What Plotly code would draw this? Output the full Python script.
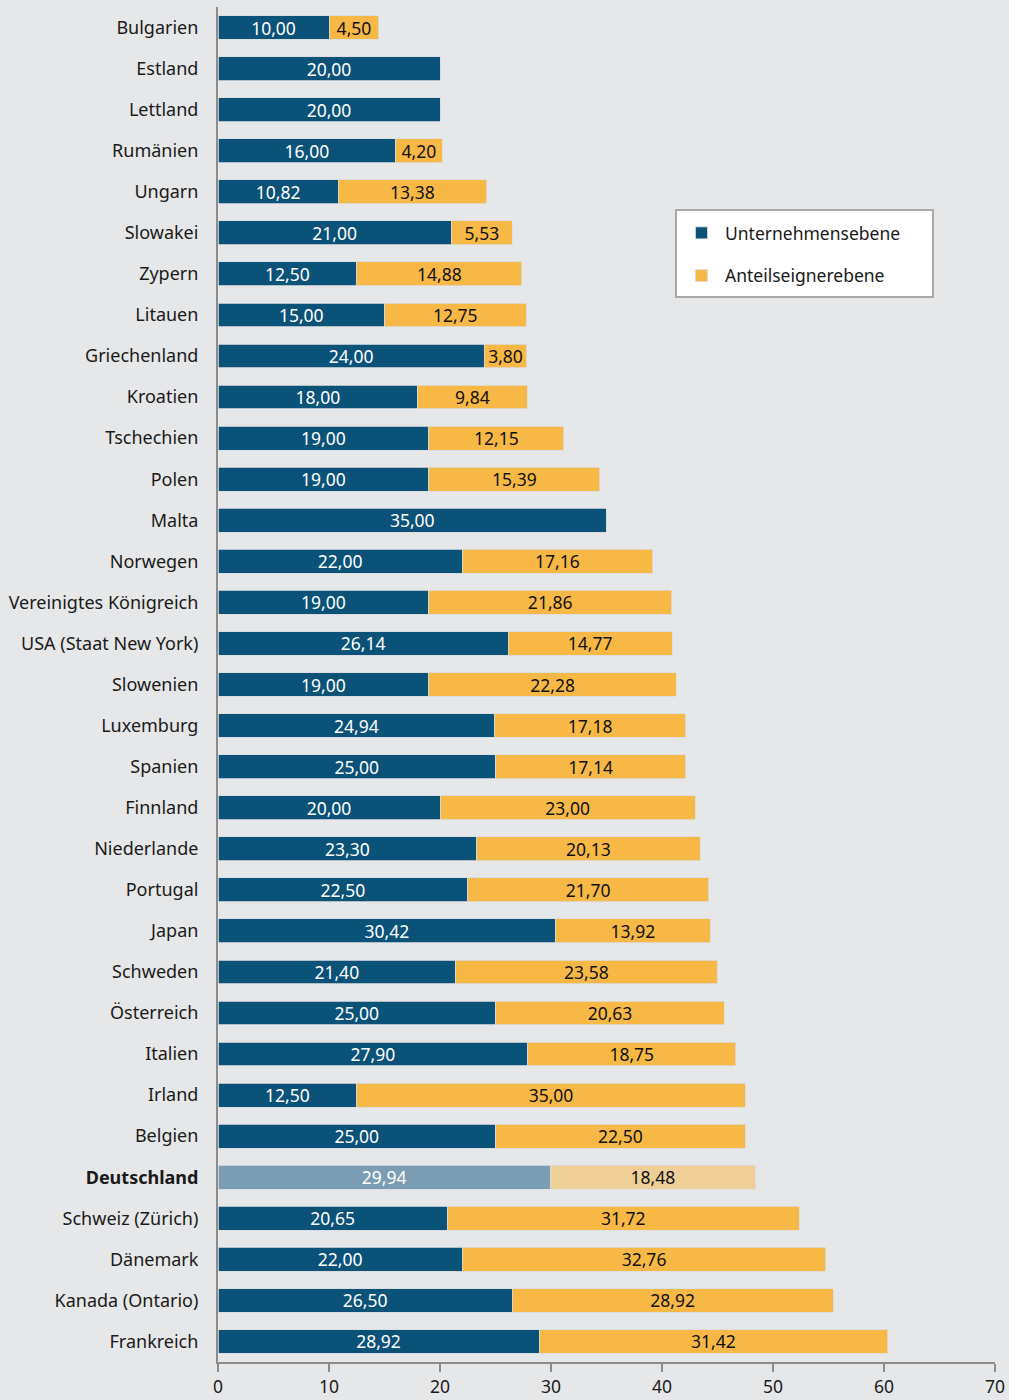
import plotly.graph_objects as go

countries = ["Bulgarien", "Estland", "Lettland", "Rumänien", "Ungarn", "Slowakei", "Zypern",
             "Litauen", "Griechenland", "Kroatien", "Tschechien", "Polen", "Malta", "Norwegen",
             "Vereinigtes Königreich", "USA (Staat New York)", "Slowenien", "Luxemburg", "Spanien",
             "Finnland", "Niederlande", "Portugal", "Japan", "Schweden", "Österreich", "Italien",
             "Irland", "Belgien", "Deutschland", "Schweiz (Zürich)", "Dänemark", "Kanada (Ontario)",
             "Frankreich"]
unternehmen = [10.00, 20.00, 20.00, 16.00, 10.82, 21.00, 12.50, 15.00, 24.00, 18.00, 19.00, 19.00,
               35.00, 22.00, 19.00, 26.14, 19.00, 24.94, 25.00, 20.00, 23.30, 22.50, 30.42, 21.40,
               25.00, 27.90, 12.50, 25.00, 29.94, 20.65, 22.00, 26.50, 28.92]
anteilseigner = [4.50, 0, 0, 4.20, 13.38, 5.53, 14.88, 12.75, 3.80, 9.84, 12.15, 15.39,
                 0, 17.16, 21.86, 14.77, 22.28, 17.18, 17.14, 23.00, 20.13, 21.70, 13.92, 23.58,
                 20.63, 18.75, 35.00, 22.50, 18.48, 31.72, 32.76, 28.92, 31.42]
highlight = "Deutschland"
x_ticks = [0, 10, 20, 30, 40, 50, 60, 70]

BLUE, BLUE_L = "#0b5279", "#7a9db3"
YEL, YEL_L = "#f7b845", "#efcf98"
BG = "#e6e7e8"

def fmt(v):
    return f"{v:.2f}".replace(".", ",") if v > 0 else ""

blue_cols = [BLUE_L if c == highlight else BLUE for c in countries]
yel_cols = [YEL_L if c == highlight else YEL for c in countries]
ticktext = [f"<b>{c}</b>" if c == highlight else c for c in countries]

fig = go.Figure()
fig.add_trace(go.Bar(
    y=countries, x=unternehmen, orientation="h", name="Unternehmensebene",
    marker=dict(color=blue_cols, line=dict(width=0.8, color="#d9dcdf")),
    text=[fmt(v) for v in unternehmen], textposition="inside", insidetextanchor="middle",
    textangle=0, textfont=dict(color="white", size=17.5), legendgroup="a",
    hoverinfo="x+y"))
fig.add_trace(go.Bar(
    y=countries, x=anteilseigner, orientation="h", name="Anteilseignerebene",
    marker=dict(color=yel_cols, line=dict(width=0.8, color="#d9dcdf")),
    text=[fmt(v) for v in anteilseigner], textposition="inside", insidetextanchor="middle",
    textangle=0, textfont=dict(color="#111111", size=17.5), legendgroup="b",
    hoverinfo="x+y"))

# legend frame (white box with grey border)
fig.add_shape(type="rect", xref="paper", yref="paper",
              x0=0.5894, x1=0.9202, y0=0.7860, y1=0.8502,
              fillcolor="white", line=dict(color="#a8a8a8", width=2), layer="above")

fig.update_layout(
    barmode="stack", bargap=0.42,
    width=1009, height=1400,
    margin=dict(l=218, r=14, t=7, b=38),
    paper_bgcolor=BG, plot_bgcolor=BG,
    font=dict(family="Noto Sans", size=18, color="#1a1a1a"),
    uniformtext=dict(mode="show", minsize=17),
    legend=dict(x=0.592, y=0.8465, xanchor="left", yanchor="top",
                bgcolor="rgba(0,0,0,0)", borderwidth=0,
                font=dict(size=17.5), tracegroupgap=17, traceorder="grouped",
                itemwidth=37, itemclick=False),
    showlegend=True,
)
fig.update_yaxes(type="category", categoryorder="array", categoryarray=countries,
                 autorange="reversed", tickvals=countries, ticktext=ticktext,
                 showline=True, linecolor="#8c8c8c", linewidth=2, ticks="",
                 ticklabelstandoff=14, showgrid=False, tickfont=dict(size=18),
                 automargin=False)
fig.update_xaxes(range=[0, 70], tickvals=x_ticks, showgrid=False, zeroline=False,
                 showline=True, linecolor="#8c8c8c", linewidth=2,
                 ticks="outside", ticklen=8, tickwidth=2, tickcolor="#8c8c8c",
                 tickfont=dict(size=17.5), automargin=False)

fig.write_html("out.html", config={"displayModeBar": False},
               post_script="document.body.style.margin='0';document.body.style.background='#e6e7e8';")
